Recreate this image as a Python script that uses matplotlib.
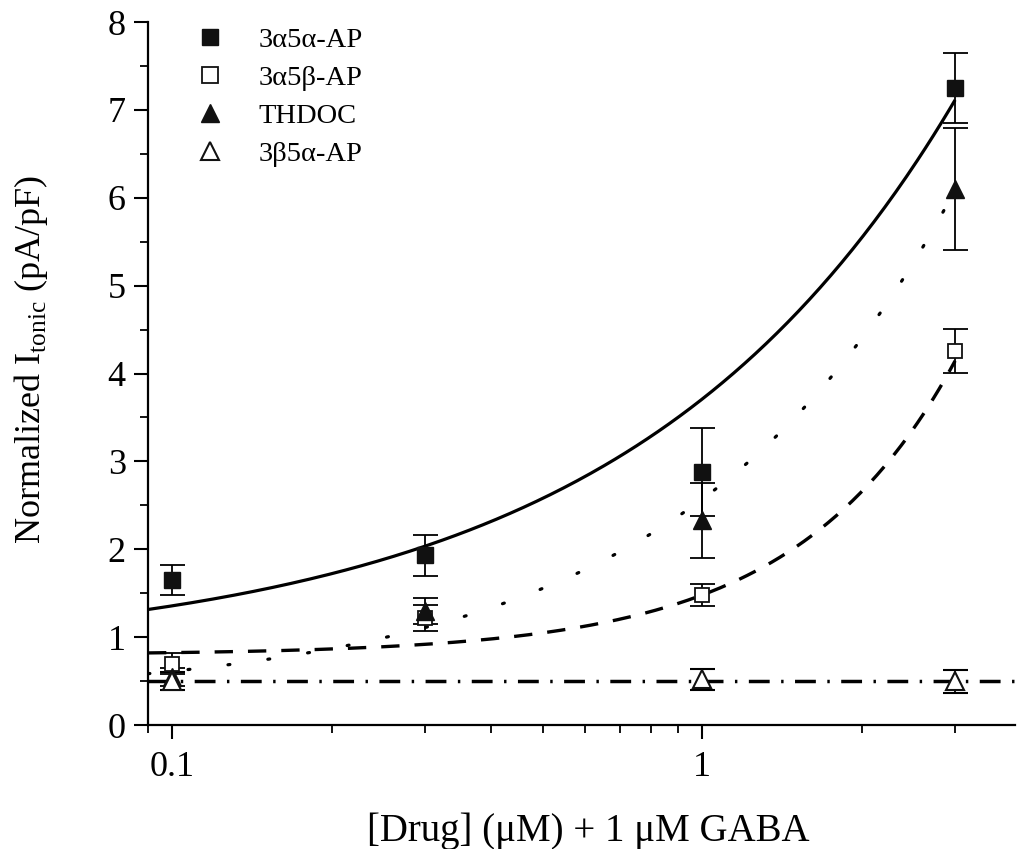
import numpy as np
import matplotlib
matplotlib.use("Agg")
import matplotlib.pyplot as plt
from matplotlib.lines import Line2D
from matplotlib.ticker import FixedLocator, NullFormatter, LogLocator

plt.rcParams['font.family'] = ['Liberation Serif', 'DejaVu Serif']
plt.rcParams['mathtext.fontset'] = 'custom'
plt.rcParams['mathtext.rm'] = 'Liberation Serif'

# data
conc = [0.1, 0.3, 1, 3]
a5a_AP = [1.65, 1.93, 2.88, 7.25]
a5a_AP_err = [0.17, 0.23, 0.50, 0.40]
a5b_AP = [0.70, 1.22, 1.48, 4.26]
a5b_AP_err = [0.12, 0.15, 0.13, 0.25]
thdoc = [0.55, 1.30, 2.33, 6.10]
thdoc_err = [0.10, 0.15, 0.43, 0.69]
conc_b5a = [0.1, 1, 3]
b5a_AP = [0.50, 0.52, 0.50]
b5a_AP_err = [0.10, 0.12, 0.13]

labels = ['3\u03b15\u03b1-AP', '3\u03b15\u03b2-AP', 'THDOC', '3\u03b25\u03b1-AP']

# fit curves  y = c + A * x**p  (parameters estimated from the figure)
fit_a5a = (0.77, 2.94, 0.70)
fit_a5b = (0.80, 0.68, 1.45)
fit_thdoc = (0.29, 2.28, 0.85)
fit_b5a = 0.50

fig = plt.figure(figsize=(10.17, 8.49), dpi=100)
ax = fig.add_axes([0.1455, 0.146, 0.853, 0.828])

xf = np.logspace(np.log10(0.09), np.log10(3), 300)
xf_all = np.logspace(np.log10(0.09), np.log10(3.9), 300)

def powfit(x, p):
    return p[0] + p[1] * x ** p[2]

ax.plot(xf, powfit(xf, fit_a5a), color='k', lw=2.3, solid_capstyle='butt')
ax.plot(xf, powfit(xf, fit_a5b), color='k', lw=2.4, dashes=(5.5, 4.5))
ax.plot(xf, powfit(xf, fit_thdoc), color='k', lw=2.3, dashes=(0.6, 12), dash_capstyle='round')
ax.plot(xf_all, np.full_like(xf_all, fit_b5a), color='k', lw=2.5, dashes=(6, 3.3, 0.7, 3.3))

ebkw = dict(ecolor='k', elinewidth=1.3, capsize=9, capthick=1.3, ls='none')
ax.errorbar(conc, a5a_AP, yerr=a5a_AP_err, fmt='s', ms=11.5, mfc='#111111', mec='#111111', **ebkw)
ax.errorbar(conc, a5b_AP, yerr=a5b_AP_err, fmt='s', ms=10.5, mfc='white', mec='#111111',
            mew=1.3, **ebkw)
ax.errorbar(conc, thdoc, yerr=thdoc_err, fmt='^', ms=13.5, mfc='#111111', mec='#111111', **ebkw)
ax.errorbar(conc_b5a, b5a_AP, yerr=b5a_AP_err, fmt='^', ms=13.5, mfc='white', mec='#111111',
            mew=1.5, **ebkw)

ax.set_xscale('log')
ax.set_xlim(0.09, 3.9)
ax.set_ylim(0, 8)
ax.set_xticks([0.1, 1])
ax.set_xticklabels(['0.1', '1'])
ax.xaxis.set_minor_locator(LogLocator(base=10, subs=np.arange(2, 10), numticks=20))
ax.xaxis.set_minor_formatter(NullFormatter())
ax.set_yticks(range(0, 9))
ax.yaxis.set_minor_locator(FixedLocator(np.arange(0.5, 8, 1.0)))

for s in ['top', 'right']:
    ax.spines[s].set_visible(False)
for s in ['left', 'bottom']:
    ax.spines[s].set_linewidth(1.6)
ax.tick_params(which='major', direction='out', length=10, width=1.5, labelsize=26, pad=6)
ax.tick_params(axis='x', which='major', pad=9)
ax.tick_params(which='minor', direction='out', length=6, width=1.3)

ax.set_xlabel('[Drug] (\u03bcM) + 1 \u03bcM GABA', fontsize=28)
ax.set_ylabel(r'Normalized I$_{\mathrm{tonic}}$ (pA/pF)', fontsize=26)
ax.xaxis.set_label_coords(0.507, -0.125)
ax.yaxis.set_label_coords(-0.113, 0.52)

handles = [
    Line2D([], [], ls='none', marker='s', ms=11, mfc='#111111', mec='#111111'),
    Line2D([], [], ls='none', marker='s', ms=11, mfc='white', mec='#111111', mew=1.3),
    Line2D([], [], ls='none', marker='^', ms=13, mfc='#111111', mec='#111111'),
    Line2D([], [], ls='none', marker='^', ms=13, mfc='white', mec='#111111', mew=1.5),
]
ax.legend(handles, labels, loc='upper left', bbox_to_anchor=(0.022, 1.029), frameon=False,
          fontsize=20.5, handlelength=1.2, handletextpad=1.1, labelspacing=0.42)

fig.savefig('out.png', dpi=100)
